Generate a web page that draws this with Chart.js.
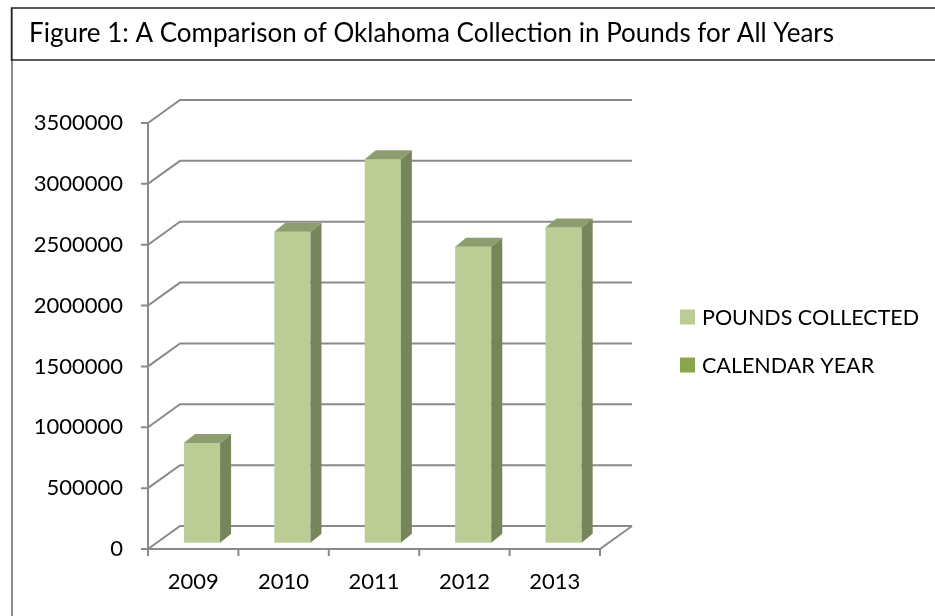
<!DOCTYPE html>
<html>
<head>
<meta charset="utf-8">
<script src="https://cdn.jsdelivr.net/npm/chart.js@4/dist/chart.umd.min.js"></script>
<style>
  html, body { margin: 0; padding: 0; background: #fff; }
  #wrap { width: 935px; height: 616px; position: relative; }
</style>
</head>
<body>
<div id="wrap"><canvas id="c" width="935" height="616"></canvas></div>
<script>
// ---- data ----
const titleText = "Figure 1: A Comparison of Oklahoma Collection in Pounds for All Years";
const categories = ["2009", "2010", "2011", "2012", "2013"];
const poundsCollected = [820000, 2555000, 3150000, 2432000, 2590000];
const calendarYear = [2009, 2010, 2011, 2012, 2013];
const seriesNames = ["POUNDS COLLECTED", "CALENDAR YEAR"];
const yMin = 0, yMax = 3500000, yStep = 500000;

// ---- styles ----
const FONT = "Lato, 'Open Sans', sans-serif";
const colFront = "#BBCC95", colSide = "#76855B", colTop = "#8D9D6D";
const legendColors = ["#BBCC95", "#8AA54E"];
const gridColor = "#8A8A8A";
const DEPTH = { x: 32, y: -23 };   // floor/back wall offset
const BAR_OFF = { x: 8.8, y: -6.3 }; // bar front face offset
const BAR_D = { x: 11, y: -9 };    // bar depth

const threeD = {
  id: "threeD",
  beforeDraw(chart) {
    const ctx = chart.ctx;
    ctx.save();
    ctx.fillStyle = "#fff";
    ctx.fillRect(0, 0, chart.width, chart.height);
    // outer frame (left side)
    ctx.strokeStyle = "#8C8C8C";
    ctx.lineWidth = 2;
    ctx.beginPath();
    ctx.moveTo(12, 8); ctx.lineTo(12, 616);
    ctx.stroke();
    // title box
    ctx.strokeStyle = "#262626";
    ctx.lineWidth = 1.5;
    ctx.beginPath();
    ctx.moveTo(940, 8); ctx.lineTo(11.5, 8); ctx.lineTo(11.5, 60); ctx.lineTo(940, 60);
    ctx.stroke();
    ctx.fillStyle = "#000";
    ctx.font = "26px " + FONT;
    ctx.textBaseline = "alphabetic";
    ctx.textAlign = "left";
    ctx.fillText(titleText, 29, 42);
    // legend
    ctx.font = "21.5px " + FONT;
    chart.data.datasets.forEach((ds, i) => {
      const yc = 317 + i * 48;
      ctx.fillStyle = legendColors[i];
      ctx.fillRect(680, yc - 7.5, 15, 15);
      ctx.fillStyle = "#000";
      ctx.textBaseline = "middle";
      ctx.fillText(ds.label, 702, yc + 1);
    });
    ctx.restore();
  },
  beforeDatasetsDraw(chart) {
    const ctx = chart.ctx;
    const ys = chart.scales.y;
    const L = chart.chartArea.left, R = chart.chartArea.right;
    const B = ys.getPixelForValue(0), T = ys.getPixelForValue(yMax);
    ctx.save();
    ctx.strokeStyle = gridColor;
    ctx.lineWidth = 2;
    ys.ticks.forEach(t => {
      const y = ys.getPixelForValue(t.value);
      ctx.beginPath();
      ctx.moveTo(L - 7, y);
      ctx.lineTo(L, y);
      ctx.lineTo(L + DEPTH.x, y + DEPTH.y);
      ctx.lineTo(R + DEPTH.x, y + DEPTH.y);
      ctx.stroke();
    });
    // floor front + right edges
    ctx.beginPath();
    ctx.moveTo(L, B); ctx.lineTo(R, B); ctx.lineTo(R + DEPTH.x, B + DEPTH.y);
    ctx.stroke();
    // vertical axis
    ctx.beginPath();
    ctx.moveTo(L, T); ctx.lineTo(L, B + 1);
    ctx.stroke();
    // category ticks
    const n = categories.length;
    for (let i = 0; i <= n; i++) {
      const x = L + (R - L) * i / n;
      ctx.beginPath();
      ctx.moveTo(x, B); ctx.lineTo(x, B + 7);
      ctx.stroke();
    }
    ctx.restore();
  },
  beforeDatasetDraw() { return false; },
  afterDatasetsDraw(chart) {
    const ctx = chart.ctx;
    const meta = chart.getDatasetMeta(0);
    ctx.save();
    meta.data.forEach(bar => {
      const p = bar.getProps(["x", "y", "base", "width"], true);
      const l = p.x - p.width / 2 + BAR_OFF.x, r = p.x + p.width / 2 + BAR_OFF.x;
      const t = p.y + BAR_OFF.y, b = p.base + BAR_OFF.y;
      ctx.fillStyle = colFront;
      ctx.fillRect(l, t, r - l, b - t);
      ctx.fillStyle = colSide;
      ctx.beginPath();
      ctx.moveTo(r, b); ctx.lineTo(r + BAR_D.x, b + BAR_D.y);
      ctx.lineTo(r + BAR_D.x, t + BAR_D.y); ctx.lineTo(r, t); ctx.closePath();
      ctx.fill();
      ctx.fillStyle = colTop;
      ctx.beginPath();
      ctx.moveTo(l, t); ctx.lineTo(l + BAR_D.x, t + BAR_D.y);
      ctx.lineTo(r + BAR_D.x, t + BAR_D.y); ctx.lineTo(r, t); ctx.closePath();
      ctx.fill();
    });
    ctx.restore();
  }
};

new Chart(document.getElementById("c"), {
  type: "bar",
  data: {
    labels: categories,
    datasets: [
      { label: seriesNames[0], data: poundsCollected, backgroundColor: legendColors[0] },
      { label: seriesNames[1], data: calendarYear, backgroundColor: legendColors[1] }
    ]
  },
  options: {
    responsive: false,
    animation: false,
    devicePixelRatio: 1,
    datasets: { bar: { grouped: false, categoryPercentage: 1, barPercentage: 0.4 } },
    layout: { padding: { left: 0, top: 123, right: 335, bottom: 0 } },
    plugins: { legend: { display: false }, title: { display: false }, tooltip: { enabled: false } },
    scales: {
      x: {
        grid: { display: false, drawTicks: false },
        border: { display: false },
        ticks: { color: "#000", font: { family: FONT, size: 22 }, padding: 20, maxRotation: 0 },
        afterFit: s => { s.height = 67; }
      },
      y: {
        min: yMin, max: yMax,
        grid: { display: false, drawTicks: false },
        border: { display: false },
        ticks: { stepSize: yStep, color: "#000", font: { family: FONT, size: 22 }, padding: 25,
                 callback: v => String(v) },
        afterFit: s => { s.width = 148; }
      }
    }
  },
  plugins: [threeD]
});
</script>
</body>
</html>
